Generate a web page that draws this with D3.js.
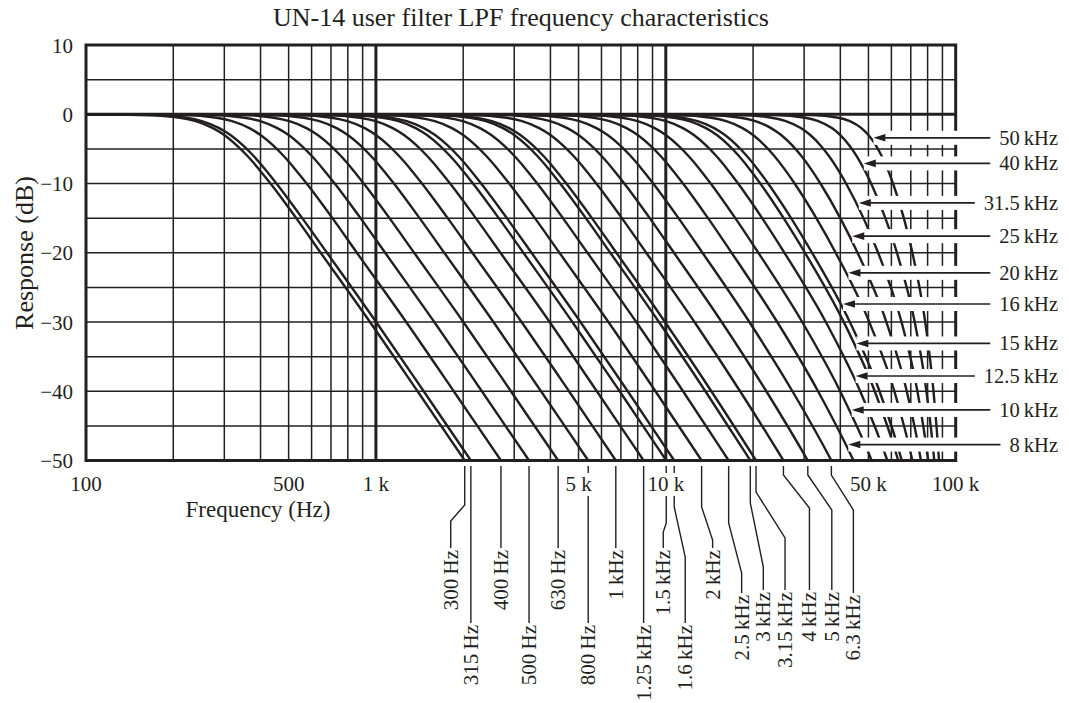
<!DOCTYPE html>
<html><head><meta charset="utf-8">
<script src="https://cdn.jsdelivr.net/npm/d3@7"></script>
<style>
body{margin:0;background:#fff}
svg{display:block}
text{font-family:"Liberation Serif","Times New Roman",serif;fill:#231f20}
</style>
</head><body>
<svg id="c" width="1069" height="703"></svg>
<script>
// ---------------- DATA ----------------
const chartTitle = "UN-14 user filter LPF frequency characteristics";
const xTitle = "Frequency (Hz)";
const yTitle = "Response (dB)";
const xTickValues = [100, 500, 1000, 5000, 10000, 50000, 100000];
const xTickLabels = ["100", "500", "1 k", "5 k", "10 k", "50 k", "100 k"];
const yTickValues = [10, 0, -10, -20, -30, -40, -50];
const yTickLabels = ["10", "0", "\u221210", "\u221220", "\u221230", "\u221240", "\u221250"];

// response level (dB) of each point of a curve
const levelsDb = [0, -0.1, -0.5, -1, -2, -3, -4.5, -6, -8, -10, -15, -20, -30, -40, -50, -56];
// frequency (Hz) where each filter's curve reaches those levels
const f300   = [100, 160, 211, 239, 274, 300, 331, 360, 396, 433, 531, 645, 954, 1392, 2025, 2550];
const f315   = [100, 168, 222, 251, 288, 315, 348, 378, 416, 454, 557, 678, 1002, 1462, 2126, 2678];
const f400   = [100, 214, 282, 319, 366, 400, 442, 480, 528, 577, 708, 860, 1272, 1856, 2700, 3400];
const f500   = [100, 267, 352, 399, 457, 500, 552, 600, 660, 721, 885, 1076, 1590, 2320, 3375, 4250];
const f630   = [100, 337, 444, 503, 576, 630, 696, 756, 832, 908, 1114, 1355, 2003, 2923, 4253, 5355];
const f800   = [100, 428, 563, 638, 732, 800, 884, 960, 1057, 1154, 1415, 1721, 2544, 3712, 5400, 6800];
const f1k    = [100, 535, 704, 798, 915, 1000, 1105, 1200, 1321, 1442, 1769, 2151, 3180, 4636, 6723, 8447];
const f1250  = [100, 668, 880, 998, 1143, 1250, 1381, 1500, 1651, 1803, 2211, 2689, 3975, 5783, 8385, 10521];
const f1500  = [100, 802, 1056, 1197, 1372, 1500, 1657, 1800, 1981, 2163, 2654, 3227, 4761, 6932, 10036, 12573];
const f1600  = [100, 855, 1126, 1277, 1463, 1600, 1768, 1920, 2113, 2307, 2830, 3442, 5077, 7390, 10692, 13385];
const f2k    = [100, 1069, 1408, 1596, 1829, 2000, 2209, 2399, 2641, 2883, 3536, 4297, 6339, 9213, 13291, 16587];
const f2500  = [100, 1336, 1760, 1995, 2286, 2500, 2762, 3000, 3301, 3603, 4417, 5367, 7910, 11470, 16473, 20461];
const f3k    = [100, 1604, 2112, 2394, 2743, 2999, 3314, 3599, 3960, 4322, 5298, 6434, 9471, 13697, 19568, 24175];
const f3150  = [100, 1685, 2219, 2515, 2881, 3150, 3479, 3779, 4158, 4538, 5562, 6754, 9937, 14359, 20479, 25256];
const f4k    = [100, 2140, 2818, 3194, 3659, 4000, 4418, 4797, 5278, 5759, 7055, 8560, 12558, 18043, 25456, 31064];
const f5k    = [100, 2677, 3524, 3993, 4574, 5000, 5521, 5994, 6593, 7193, 8803, 10669, 15588, 22218, 30894, 37200];
const f6300  = [100, 3376, 4443, 5034, 5765, 6300, 6955, 7548, 8299, 9050, 11062, 13381, 19424, 27351, 37254, 44081];
const f8k    = [100, 4294, 5648, 6397, 7323, 8000, 8827, 9576, 10522, 11466, 13984, 16865, 24231, 33514, 44401, 51430];
const f10k   = [100, 5379, 7072, 8006, 9158, 10000, 11026, 11953, 13122, 14284, 17366, 20855, 29547, 39951, 51304, 58163];
const f12500 = [100, 6748, 8862, 10026, 11457, 12500, 13768, 14910, 16343, 17763, 21494, 25649, 35637, 46832, 58097, 64469];
const f15k   = [100, 8134, 10668, 12057, 13762, 15000, 16500, 17845, 19527, 21184, 25492, 30204, 41108, 52578, 63358, 69165];
const f16k   = [100, 8694, 11395, 12874, 14686, 16000, 17590, 19013, 20789, 22534, 27052, 31954, 43129, 54602, 65133, 70715];
const f20k   = [100, 10969, 14336, 16167, 18396, 20000, 21928, 23641, 25759, 27820, 33050, 38545, 50334, 61428, 70850, 75610];
const f25k   = [100, 13916, 18104, 20355, 23068, 25000, 27298, 29317, 31781, 34145, 39983, 45866, 57647, 67804, 75874, 79804];
const f31500 = [100, 17969, 23192, 25948, 29212, 31500, 34177, 36488, 39258, 41861, 48065, 54001, 65029, 73782, 80367, 83485];
const f40k   = [100, 23787, 30270, 33579, 37395, 40000, 42975, 45481, 48409, 51087, 57196, 62709, 72230, 79265, 84343, 86702];
const f50k   = [100, 31693, 39392, 43127, 47271, 50000, 53024, 55496, 58302, 60795, 66241, 70901, 78494, 83831, 87573, 89293];

// filters labelled below the plot
const lowLabels = ["300\u2009Hz", "315\u2009Hz", "400\u2009Hz", "500\u2009Hz", "630\u2009Hz", "800\u2009Hz", "1\u2009kHz", "1.25\u2009kHz",
  "1.5\u2009kHz", "1.6\u2009kHz", "2\u2009kHz", "2.5\u2009kHz", "3\u2009kHz", "3.15\u2009kHz", "4\u2009kHz", "5\u2009kHz", "6.3\u2009kHz"];
const lowCurves = [f300, f315, f400, f500, f630, f800, f1k, f1250, f1500, f1600, f2k, f2500, f3k, f3150, f4k, f5k, f6300];
// filters labelled at the right with arrows
const highLabels = ["50\u2009kHz", "40\u2009kHz", "31.5\u2009kHz", "25\u2009kHz", "20\u2009kHz", "16\u2009kHz", "15\u2009kHz", "12.5\u2009kHz", "10\u2009kHz", "8\u2009kHz"];
const highCurves = [f50k, f40k, f31500, f25k, f20k, f16k, f15k, f12500, f10k, f8k];
const highArrowDb = [-3.4, -7.1, -12.8, -17.6, -22.9, -27.4, -33.1, -37.8, -42.7, -47.7];

// ---------------- LAYOUT ----------------
// leader geometry for the bottom labels: [dx of lower part, y of bend start, y of bend end, y where text starts]
const leaderLayout = [
  [-14, 505, 521, 548], [0, 0, 0, 623], [0, 0, 0, 548], [0, 0, 0, 623], [0, 0, 0, 548], [0, 0, 0, 623],
  [0, 0, 0, 548], [0, 0, 0, 623], [-3, 523, 532, 548], [11, 507, 557, 623], [11, 507, 540, 548],
  [13, 523, 573, 593], [13, 503, 567, 590], [29, 492, 538, 590], [26, 475, 508, 590], [24, 475, 510, 590], [22, 475, 510, 593]
];

const L = 86, R = 955.7, T = 45, B = 460.5;
const ink = "#231f20";
const x = d3.scaleLog().domain([100, 100000]).range([L, R]);
const y = d3.scaleLinear().domain([-50, 10]).range([B, T]);
const svg = d3.select("#c");

svg.append("defs").append("clipPath").attr("id", "plot")
  .append("rect").attr("x", L).attr("y", T).attr("width", R - L).attr("height", B - T);

// grid
const grid = svg.append("g").attr("stroke", ink).attr("fill", "none");
grid.selectAll("line.v").data(x.ticks()).join("line")
  .attr("x1", d => x(d)).attr("x2", d => x(d)).attr("y1", T).attr("y2", B)
  .attr("stroke-width", d => (d === 1000 || d === 10000) ? 3 : 1.5);
grid.selectAll("line.h").data(y.ticks(12)).join("line")
  .attr("x1", L).attr("x2", R).attr("y1", d => y(d)).attr("y2", d => y(d))
  .attr("stroke-width", d => d === 0 ? 3 : 1.5);

// curves
const allCurves = lowCurves.concat(highCurves);
const line = d3.line().x(d => x(d[0])).y(d => y(d[1])).curve(d3.curveMonotoneX);
svg.append("g").attr("clip-path", "url(#plot)")
  .selectAll("path").data(allCurves).join("path")
  .attr("d", fs => line(fs.map((f, i) => [f, levelsDb[i]])))
  .attr("fill", "none").attr("stroke", ink).attr("stroke-width", 2.4).attr("stroke-linejoin", "round");

// border
svg.append("rect").attr("x", L).attr("y", T).attr("width", R - L).attr("height", B - T)
  .attr("fill", "none").attr("stroke", ink).attr("stroke-width", 3);

// x position of a curve at a given level
function xAtDb(fs, db) {
  for (let i = 0; i < levelsDb.length - 1; i++) {
    if (levelsDb[i] >= db && levelsDb[i + 1] <= db) {
      const t = (levelsDb[i] - db) / (levelsDb[i] - levelsDb[i + 1]);
      return x(Math.exp(Math.log(fs[i]) + t * (Math.log(fs[i + 1]) - Math.log(fs[i]))));
    }
  }
  return R;
}

// right-hand labels with arrows (white halos break the grid behind them)
const arrowG = svg.append("g");
highCurves.forEach((fs, i) => {
  const ay = y(highArrowDb[i]);
  const tip = xAtDb(fs, highArrowDb[i]) + 3;
  arrowG.append("rect").attr("x", tip).attr("y", ay - 7).attr("width", 960 - tip).attr("height", 14).attr("fill", "#fff");
  const t = arrowG.append("text").attr("x", 1058).attr("y", ay + 7).attr("text-anchor", "end")
    .attr("font-size", 20.5).text(highLabels[i]);
  const tail = 1058 - t.node().getComputedTextLength() - 9;
  arrowG.append("line").attr("x1", tip + 9).attr("x2", tail).attr("y1", ay).attr("y2", ay)
    .attr("stroke", ink).attr("stroke-width", 1.7);
  arrowG.append("path").attr("d", `M${tip},${ay}L${tip + 12},${ay - 3.8}L${tip + 12},${ay + 3.8}Z`).attr("fill", ink);
});

// bottom leaders + labels
const leadG = svg.append("g");
lowCurves.forEach((fs, i) => {
  const x0 = xAtDb(fs, -50);
  const [dx, yA, yB, yE] = leaderLayout[i];
  const xB = x0 + dx;
  const d = dx === 0 ? `M${x0},466V${yE}` : `M${x0},466V${yA}L${xB},${yB}V${yE}`;
  leadG.append("path").attr("d", d).attr("fill", "none").attr("stroke", ink).attr("stroke-width", 1.4);
  leadG.append("text").attr("transform", `translate(${xB},${yE + 2}) rotate(-90)`)
    .attr("text-anchor", "end").attr("dy", "0.33em").attr("font-size", 21).text(lowLabels[i]);
});

// x tick labels (with white knockout)
const xt = svg.append("g");
xTickValues.forEach((v, i) => {
  const t = xt.append("text").attr("x", x(v)).attr("y", 491).attr("text-anchor", "middle")
    .attr("font-size", 21).text(xTickLabels[i]);
  const bb = t.node().getBBox();
  xt.insert("rect", "text").attr("x", bb.x - 2).attr("y", bb.y + 1).attr("width", bb.width + 4).attr("height", bb.height - 1).attr("fill", "#fff");
});

// y tick labels
svg.append("g").selectAll("text").data(yTickValues).join("text")
  .attr("x", 73).attr("y", d => y(d) + 7.5).attr("text-anchor", "end").attr("font-size", 21)
  .text((d, i) => yTickLabels[i]);

// titles
svg.append("text").attr("x", 521).attr("y", 26).attr("text-anchor", "middle").attr("font-size", 26).text(chartTitle);
svg.append("text").attr("x", 258).attr("y", 517).attr("text-anchor", "middle").attr("font-size", 23).text(xTitle);
svg.append("text").attr("transform", "translate(33,253) rotate(-90)").attr("text-anchor", "middle").attr("font-size", 26).text(yTitle);
</script>
</body></html>
